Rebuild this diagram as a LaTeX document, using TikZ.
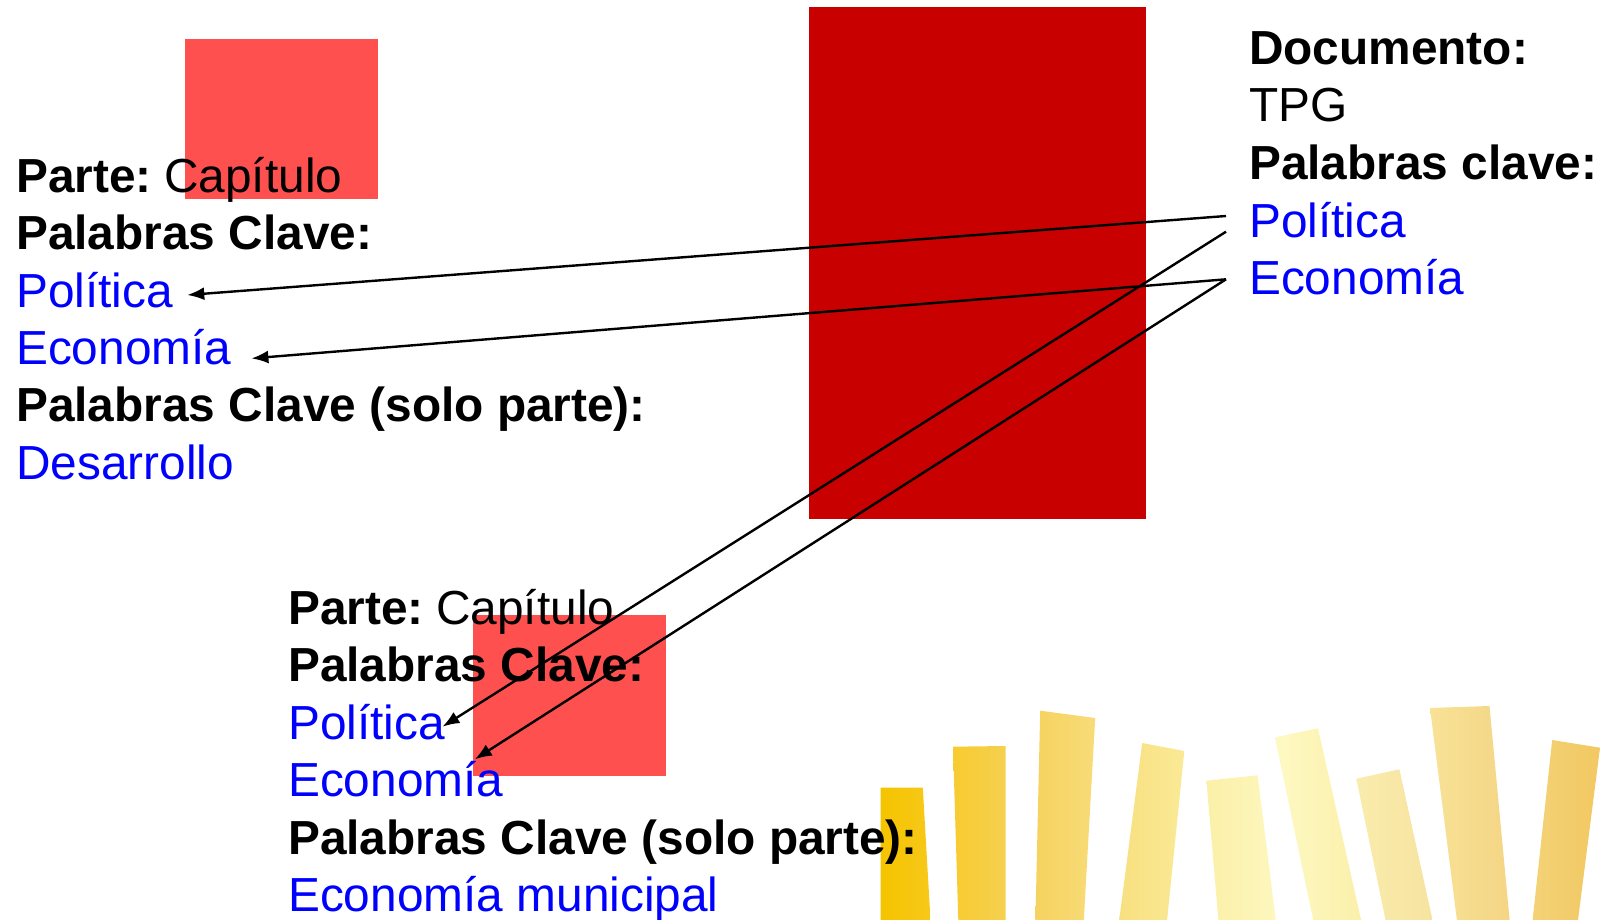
\documentclass[tikz,border=0pt]{standalone}
\usepackage{fontspec}
\setmainfont{Liberation Sans}
\usetikzlibrary{arrows.meta}

\definecolor{lightred}{HTML}{FF5050}
\definecolor{darkred}{HTML}{C80000}
\definecolor{kwblue}{HTML}{0000FF}

\begin{document}
\begin{tikzpicture}[x=1pt,y=-1pt,
   txt/.style={anchor=base west,inner sep=0pt,font=\fontsize{47.8}{57}\selectfont},
   head/.style={txt,font=\fontsize{47.8}{57}\selectfont\bfseries},
   kw/.style={txt,text=kwblue},
   link/.style={-{Latex[length=17pt,width=13pt]},line width=2.4pt}]
   \useasboundingbox (0,0) rectangle (1601,920);
   % red blocks
   \fill[lightred] (185,39) rectangle (378,199.5);
   \fill[darkred] (808.6,7) rectangle (1145.6,518.7);
   \fill[lightred] (472.7,614.6) rectangle (665.8,775.5);
   % yellow bars
   \shade[left color={rgb,255:red,245;green,196;blue,0},right color={rgb,255:red,247;green,200;blue,26}] (880.7,787.7) -- (922.8,787.7) -- (930.5,920) -- (880.7,920) -- cycle;
   \shade[left color={rgb,255:red,247;green,203;blue,48},right color={rgb,255:red,246;green,208;blue,80}] (953,746.7) -- (1005.7,746) -- (1005.7,920) -- (958.3,920) -- cycle;
   \shade[left color={rgb,255:red,246;green,211;blue,96},right color={rgb,255:red,248;green,219;blue,120}] (1040.2,710.7) -- (1095.2,718) -- (1083.8,920) -- (1035.4,920) -- cycle;
   \shade[left color={rgb,255:red,248;green,224;blue,128},right color={rgb,255:red,250;green,233;blue,150}] (1142.2,743) -- (1184.3,751) -- (1167.1,920) -- (1119.2,920) -- cycle;
   \shade[left color={rgb,255:red,251;green,240;blue,168},right color={rgb,255:red,253;green,247;blue,190}] (1206.4,780.7) -- (1257.6,775.3) -- (1275.8,920) -- (1218.4,920) -- cycle;
   \shade[left color={rgb,255:red,254;green,249;blue,196},right color={rgb,255:red,251;green,240;blue,170}] (1274.9,737.3) -- (1318,728.3) -- (1361.1,920) -- (1313.2,920) -- cycle;
   \shade[left color={rgb,255:red,249;green,236;blue,172},right color={rgb,255:red,247;green,227;blue,160}] (1356.3,778.7) -- (1399.4,769.3) -- (1432.5,920) -- (1385.5,920) -- cycle;
   \shade[left color={rgb,255:red,248;green,226;blue,150},right color={rgb,255:red,244;green,213;blue,133}] (1430,708) -- (1489.5,706) -- (1509.6,920) -- (1456.9,920) -- cycle;
   \shade[left color={rgb,255:red,243;green,210;blue,118},right color={rgb,255:red,242;green,200;blue,98}] (1552.2,740) -- (1600,747.7) -- (1578,920) -- (1532.6,920) -- cycle;
   % document
   \node[head] (doc) at (1249,65) {Documento:};
   \node[txt] (tpg) at (1249,122) {TPG};
   \node[head] (rkey) at (1249,179.5) {Palabras clave:};
   \node[kw] (rpol) at (1249,237) {Política};
   \node[kw] (reco) at (1249,294.5) {Economía};
   % first part
   \node[txt] (lpart) at (16,192.5) {\textbf{Parte:}\hspace{12.5pt}Capítulo};
   \node[head] (lkey) at (16,249.8) {Palabras Clave:};
   \node[kw] (lpol) at (16,307.1) {Política};
   \node[kw] (leco) at (16,364.4) {Economía};
   \node[head] (lonly) at (16,421.7) {Palabras Clave (solo parte):};
   \node[kw] (ldes) at (16,479) {Desarrollo};
   % second part
   \node[txt] (bpart) at (288,624) {\textbf{Parte:}\hspace{12.5pt}Capítulo};
   \node[head] (bkey) at (288,681.5) {Palabras Clave:};
   \node[kw] (bpol) at (288,739) {Política};
   \node[kw] (beco) at (288,796.5) {Economía};
   \node[head] (bonly) at (288,854) {Palabras Clave (solo parte):};
   \node[kw] (bmun) at (288,911.5) {Economía municipal};
   % inherited keywords
   \draw[link] ([shift={(-23,-21)}]rpol.base west) -- ([shift={(14.1,-12.1)}]lpol.base east);
   \draw[link] ([shift={(-23,-15.2)}]reco.base west) -- ([shift={(19.8,-6)}]leco.base east);
   \draw[link] ([shift={(-23,-5.3)}]rpol.base west) -- ([shift={(-2.7,-12.3)}]bpol.base east);
   \draw[link] ([shift={(-23,-15.2)}]reco.base west) -- ([shift={(-28.8,-37.2)}]beco.base east);
\end{tikzpicture}
\end{document}
